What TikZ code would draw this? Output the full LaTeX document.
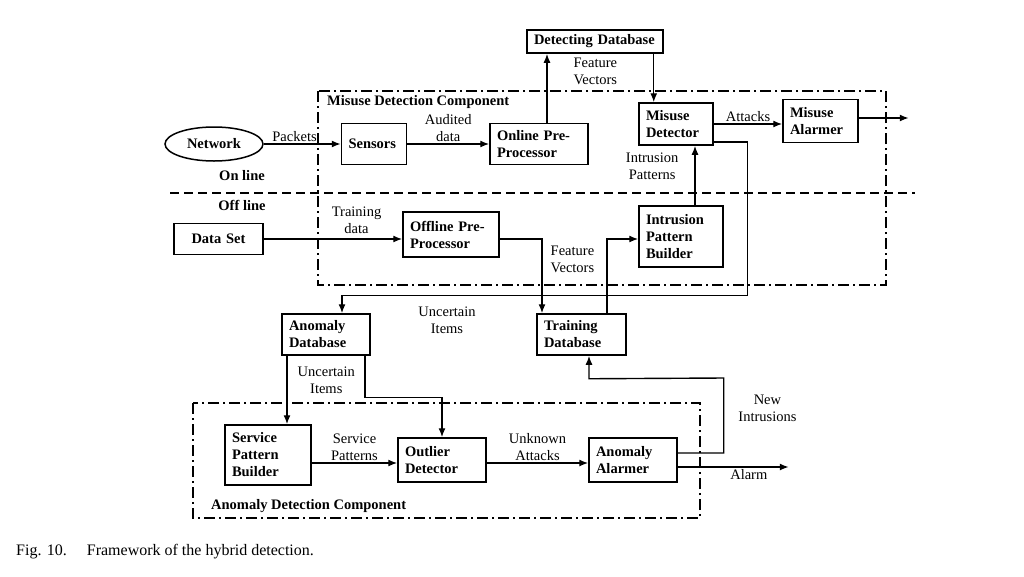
\documentclass[tikz,border=0pt]{standalone}
\usepackage{fontspec}
\setmainfont{Liberation Serif}
\usepackage{tikz}
\usetikzlibrary{shapes.geometric, arrows.meta}
\tikzstyle{block} = [rectangle, draw=black, line width=1.5pt, font=\fontsize{14.5}{17}\selectfont\bfseries, align=left, inner xsep=7pt, inner ysep=3pt]
\tikzstyle{source} = [ellipse, draw=black, line width=1.5pt, minimum width=98pt, minimum height=34pt, inner sep=0pt, font=\fontsize{14.5}{17}\selectfont\bfseries]
\tikzstyle{lbl} = [font=\fontsize{14.5}{17}\selectfont, align=center, inner sep=2pt]
\tikzstyle{title} = [font=\fontsize{14.5}{17}\selectfont\bfseries, inner sep=0pt]
\tikzstyle{arrow} = [line width=1.4pt, -{Latex[length=9pt,width=7pt]}]
\tikzstyle{compbox} = [line width=1.9pt, dash pattern=on 11pt off 4pt on 2pt off 4pt]
\tikzstyle{splitline} = [line width=1.7pt, dash pattern=on 9pt off 5pt]

\begin{document}
\begin{tikzpicture}[node distance=100pt]
            \useasboundingbox (0,0) rectangle (1024pt,-576pt);
            % Components
            \draw [compbox] (318pt,-91pt) rectangle (886pt,-285pt);
            \draw [compbox] (193pt,-403pt) rectangle (700pt,-518pt);
            \draw [splitline] (170pt,-193pt) -- (915pt,-193pt);
            \node (misusetitle) [title, anchor=west] at (327pt,-102pt) {Misuse Detection Component};
            \node (anomtitle) [title, anchor=west] at (211pt,-506pt) {Anomaly Detection Component};
            \node (onlinetxt) [title] at (242pt,-176pt) {On line};
            \node (offlinetxt) [title] at (242pt,-205pt) {Off line};

            % Nodes
            \node (network) [source] at (214pt,-144pt) {Network};
            \node (sensors) [block, text width=51pt, minimum height=41pt, right of=network, xshift=60pt] {Sensors};
            \node (online) [block, text width=84pt, minimum height=41pt, right of=sensors, xshift=65pt] {Online Pre-\\Processor};
            \node (detdb) [block, text width=122pt, minimum height=23pt, above of=online, xshift=56pt, yshift=2.5pt] {Detecting Database};
            \node (misdet) [block, text width=60pt, minimum height=42pt, right of=online, xshift=37pt, yshift=20pt] {Misuse\\Detector};
            \node (misalarm) [block, text width=61pt, minimum height=43pt, right of=misdet, xshift=44.5pt, yshift=3pt] {Misuse\\Alarmer};
            \node (dataset) [block, text width=75pt, align=center, minimum height=31pt, below of=network, xshift=4.5pt, yshift=5pt] {Data Set};
            \node (offpre) [block, text width=82pt, minimum height=45pt, right of=dataset, xshift=132.5pt, yshift=4.5pt] {Offline Pre-\\Processor};
            \node (ipb) [block, text width=70pt, minimum height=61pt, right of=offpre, xshift=130pt, yshift=-2pt] {Intrusion\\Pattern\\Builder};
            \node (traindb) [block, text width=75pt, minimum height=41pt, below of=offpre, xshift=130.5pt] {Training\\Database};
            \node (anomdb) [block, text width=74pt, minimum height=41pt, left of=traindb, xshift=-155.5pt] {Anomaly\\Database};
            \node (spb) [block, text width=72pt, minimum height=60pt, below of=anomdb, xshift=-58pt, yshift=-20.5pt] {Service\\Pattern\\Builder};
            \node (outlier) [block, text width=74pt, minimum height=44pt, right of=spb, xshift=74pt, yshift=-5pt] {Outlier\\Detector};
            \node (anomalarm) [block, text width=74pt, minimum height=44pt, right of=outlier, xshift=91pt] {Anomaly\\Alarmer};
            \node (unclbl) [lbl, right of=anomdb, xshift=21pt, yshift=14.5pt] {Uncertain\\Items};
            \node (caption) [anchor=west, inner sep=0pt, font=\fontsize{16}{18}\selectfont] at (16pt,-552pt) {Fig. 10.\hspace{20pt}Framework of the hybrid detection.};

            % Free ends
            \coordinate (misout) at ([xshift=50pt,yshift=3pt]misalarm.east);
            \coordinate (alarmout) at ([xshift=111pt,yshift=-7pt]anomalarm.east);

            % Arrows
            \draw [arrow] (network) -- (sensors) node[lbl, pos=0.4, above] {Packets};
            \draw [arrow] (sensors) -- (online) node[lbl, midway, above] {Audited\\data};
            \draw [arrow] ([xshift=8pt]online.north) -- ([xshift=8pt]online.north |- detdb.south);
            \draw [arrow] ([xshift=-10pt]detdb.south east) -- ([xshift=-10pt]detdb.south east |- misdet.north) node[lbl, pos=0.36, left=34pt] {Feature\\Vectors};
            \draw [arrow] (misdet.east) -- (misdet.east -| misalarm.west) node[lbl, midway, above] {Attacks};
            \draw [arrow] ([yshift=3pt]misalarm.east) -- (misout);
            \draw [arrow] (dataset.east) -- (dataset.east -| offpre.west) node[lbl, pos=0.67, above=3pt] {Training\\data};
            \draw [arrow] ([yshift=-18pt]misdet.east) -- ++(34pt,0) |- ([xshift=16pt,yshift=18pt]anomdb.north) -- ([xshift=16pt]anomdb.north);
            \draw [arrow] ([yshift=-4.5pt]offpre.east) -| ([xshift=-39.5pt]traindb.north) node[lbl, pos=0.64, right=6pt] {Feature\\Vectors};
            \draw [arrow] ([xshift=25.5pt]traindb.north) |- ([yshift=-2.5pt]ipb.west);
            \draw [arrow] ([xshift=14pt]ipb.north) -- ([xshift=14pt]ipb.north |- misdet.south) node[lbl, pos=0.65, left=14pt] {Intrusion\\Patterns};
            \draw [arrow] ([xshift=-39pt]anomdb.south) -- ([xshift=-39pt]anomdb.south |- spb.north) node[lbl, pos=0.36, right=8pt] {Uncertain\\Items};
            \draw [arrow] ([xshift=39pt]anomdb.south) -- ++(0,-42pt) -| (outlier.north);
            \draw [arrow] ([yshift=-8pt]spb.east) -- ([yshift=-8pt]spb.east -| outlier.west) node[lbl, midway, above] {Service\\Patterns};
            \draw [arrow] ([yshift=-3pt]outlier.east) -- ([yshift=-3pt]outlier.east -| anomalarm.west) node[lbl, midway, above] {Unknown\\Attacks};
            \draw [arrow] ([yshift=7pt]anomalarm.east) -- ++(46pt,0) -- ++(0,75pt) node[lbl, pos=0.6, right=12pt] {New\\Intrusions} -- ([xshift=7.5pt,yshift=-23pt]traindb.south) -- ([xshift=7.5pt]traindb.south);
            \draw [arrow] ([yshift=-7pt]anomalarm.east) -- (alarmout) node[lbl, pos=0.64, below] {Alarm};
        \end{tikzpicture}
\end{document}
